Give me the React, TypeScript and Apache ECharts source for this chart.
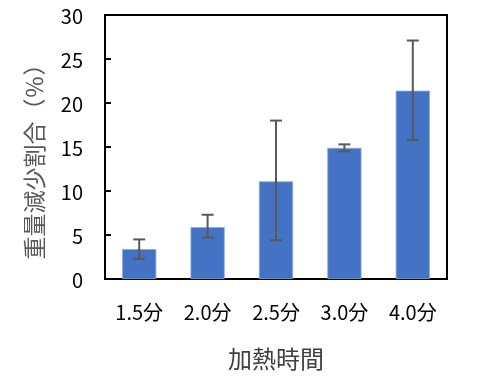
import React, { useEffect, useRef } from "react";
import * as echarts from "echarts";

const categories = ["1.5分", "2.0分", "2.5分", "3.0分", "4.0分"];
const values = [3.4, 5.9, 11.1, 14.9, 21.4];
const errLow = [2.3, 4.7, 4.4, 14.5, 15.8];
const errHigh = [4.5, 7.3, 18.0, 15.3, 27.1];
const yTicks = [0, 5, 10, 15, 20, 25, 30];

const FONT = "'Noto Sans CJK JP', 'Noto Sans', sans-serif";

export default function App() {
  const ref = useRef<HTMLDivElement>(null);
  useEffect(() => {
    if (!ref.current) return;
    const chart = echarts.init(ref.current, null, { renderer: "svg" });
    const errData = categories.map((_, i) => [i, errLow[i], errHigh[i]]);
    chart.setOption({
      animation: false,
      grid: {
        left: 105,
        top: 15,
        right: 34,
        bottom: 100,
        show: true,
        borderColor: "#000",
        borderWidth: 2,
        backgroundColor: "transparent",
      },
      xAxis: {
        type: "category",
        data: categories,
        name: "加熱時間",
        nameLocation: "middle",
        nameGap: 66,
        nameTextStyle: { fontFamily: FONT, fontSize: 24, color: "#404040" },
        axisLine: { lineStyle: { color: "#000", width: 2 } },
        axisTick: { inside: true, length: 6, lineStyle: { color: "#000", width: 2 } },
        axisLabel: { fontFamily: FONT, fontSize: 20, color: "#000", margin: 22 },
      },
      yAxis: {
        type: "value",
        min: yTicks[0],
        max: yTicks[yTicks.length - 1],
        interval: 5,
        name: "重量減少割合（％）",
        nameLocation: "middle",
        nameGap: 61,
        nameRotate: 90,
        nameTextStyle: { fontFamily: FONT, fontSize: 23, color: "#595959", padding: [0, 18, 0, 0] },
        axisLine: { show: true, lineStyle: { color: "#000", width: 2 } },
        axisTick: { show: true, inside: true, length: 6, lineStyle: { color: "#000", width: 2 } },
        axisLabel: { fontFamily: FONT, fontSize: 20, color: "#000", margin: 22 },
        splitLine: { show: false },
      },
      series: [
        {
          type: "bar",
          data: values,
          barWidth: "50%",
          itemStyle: { color: "#4472C4", borderColor: "#8FAADC", borderWidth: 0.8 },
        },
        {
          type: "custom",
          data: errData,
          z: 10,
          renderItem: (params: any, api: any) => {
            const x = api.value(0);
            const lo = api.coord([x, api.value(1)]);
            const hi = api.coord([x, api.value(2)]);
            const hw = 6;
            const style = { stroke: "#595959", lineWidth: 2, fill: "none" };
            return {
              type: "group",
              children: [
                { type: "line", shape: { x1: lo[0], y1: lo[1], x2: hi[0], y2: hi[1] }, style },
                { type: "line", shape: { x1: hi[0] - hw, y1: hi[1], x2: hi[0] + hw, y2: hi[1] }, style },
                { type: "line", shape: { x1: lo[0] - hw, y1: lo[1], x2: lo[0] + hw, y2: lo[1] }, style },
              ],
            };
          },
        },
      ],
    });
    return () => chart.dispose();
  }, []);
  return (
    <div
      ref={ref}
      style={{ position: "fixed", left: 0, top: 0, width: 481, height: 379 }}
    />
  );
}
